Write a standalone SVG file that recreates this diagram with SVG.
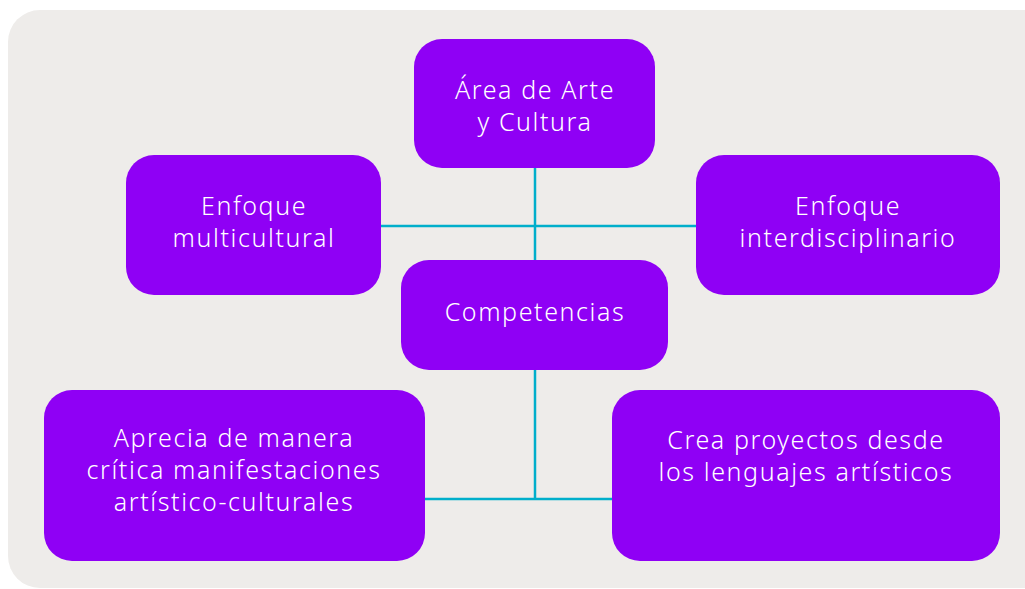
<svg xmlns="http://www.w3.org/2000/svg" width="1025" height="589" viewBox="0 0 1025 589">
<style>
.bg{fill:#eeecea}
.node{fill:#8f00f5}
.t{fill:#ffffff;font-family:"Noto Sans","DejaVu Sans",sans-serif;font-size:25px;font-weight:300;letter-spacing:1.6px;text-anchor:middle}
.c{stroke:#00aecb;stroke-width:2.5;fill:none}
</style>
<rect class="bg" x="8" y="10" width="1050" height="578" rx="32"/>
<g id="connectors">
<line class="c" x1="535" y1="168" x2="535" y2="260"/>
<line class="c" x1="381" y1="226" x2="696" y2="226"/>
<line class="c" x1="535" y1="370" x2="535" y2="499"/>
<line class="c" x1="425" y1="499" x2="612" y2="499"/>
</g>
<g id="area">
<rect class="node" x="414" y="39" width="241" height="129" rx="28"/>
<text class="t" x="535" y="99">Área de Arte</text>
<text class="t" x="535" y="131">y Cultura</text>
</g>
<g id="multicultural">
<rect class="node" x="126" y="155" width="255" height="140" rx="28"/>
<text class="t" x="254" y="215">Enfoque</text>
<text class="t" x="254" y="247">multicultural</text>
</g>
<g id="interdisciplinario">
<rect class="node" x="696" y="155" width="304" height="140" rx="28"/>
<text class="t" x="848" y="215">Enfoque</text>
<text class="t" x="848" y="247">interdisciplinario</text>
</g>
<g id="competencias">
<rect class="node" x="401" y="260" width="267" height="110" rx="28"/>
<text class="t" x="535" y="321">Competencias</text>
</g>
<g id="aprecia">
<rect class="node" x="44" y="390" width="381" height="171" rx="28"/>
<text class="t" x="234" y="447">Aprecia de manera</text>
<text class="t" x="234" y="479">crítica manifestaciones</text>
<text class="t" x="234" y="511">artístico-culturales</text>
</g>
<g id="crea">
<rect class="node" x="612" y="390" width="388" height="171" rx="28"/>
<text class="t" x="806" y="449">Crea proyectos desde</text>
<text class="t" x="806" y="481">los lenguajes artísticos</text>
</g>
</svg>
